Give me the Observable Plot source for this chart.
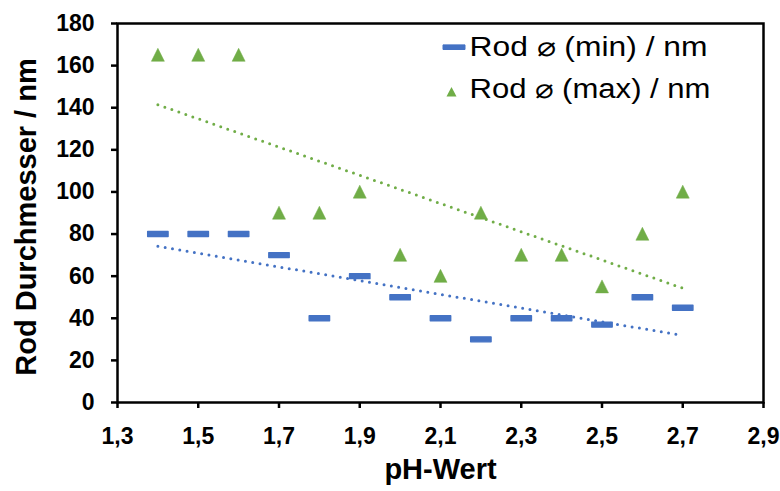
<!DOCTYPE html>
<html>
<head>
<meta charset="utf-8">
<script src="https://cdn.jsdelivr.net/npm/d3@7"></script>
<script src="https://cdn.jsdelivr.net/npm/@observablehq/plot@0.6"></script>
<style>
  html, body { margin: 0; padding: 0; background: #fff; }
  #chart svg { font-family: "Liberation Sans", Arial, sans-serif; }
</style>
</head>
<body>
<div id="chart"></div>
<script>
// ---- data ----
const pH = [1.4, 1.5, 1.6, 1.7, 1.8, 1.9, 2.0, 2.1, 2.2, 2.3, 2.4, 2.5, 2.6, 2.7];
const rodMin = [80, 80, 80, 70, 40, 60, 50, 40, 30, 40, 40, 37, 50, 45];
const rodMax = [165, 165, 165, 90, 90, 100, 70, 60, 90, 70, 70, 55, 80, 100];
const xTicks = [1.3, 1.5, 1.7, 1.9, 2.1, 2.3, 2.5, 2.7, 2.9];
const yTicks = [0, 20, 40, 60, 80, 100, 120, 140, 160, 180];
const seriesNames = ["Rod \u2300 (min) / nm", "Rod \u2300 (max) / nm"];
const xTitle = "pH-Wert";
const yTitle = "Rod Durchmesser / nm";

const minData = pH.map((x, i) => ({x, y: rodMin[i]}));
const maxData = pH.map((x, i) => ({x, y: rodMax[i]}));

const blue = "#4472C4";
const green = "#70AD47";

const dashSymbol = {draw(ctx) { ctx.rect(-10.2, -2.5, 20.4, 5); ctx.closePath(); }};
const triSymbol = {draw(ctx) { ctx.moveTo(0, -6.8); ctx.lineTo(6.5, 6.2); ctx.lineTo(-6.5, 6.2); ctx.closePath(); }};
const legendDash = {draw(ctx) { ctx.rect(-11, -2.3, 22, 4.6); ctx.closePath(); }};
const legendTri = {draw(ctx) { ctx.moveTo(0, -5); ctx.lineTo(5, 4.5); ctx.lineTo(-5, 4.5); ctx.closePath(); }};

const fmt = d => d.toFixed(1).replace(".", ",");

const chart = Plot.plot({
  width: 780,
  height: 491,
  marginTop: 23,
  marginRight: 17,
  marginBottom: 89,
  marginLeft: 117,
  style: {fontFamily: "'Liberation Sans', Arial, sans-serif", color: "#000", background: "#fff"},
  x: {domain: [1.3, 2.9]},
  y: {domain: [0, 180]},
  marks: [
    Plot.linearRegressionY(maxData, {x: "x", y: "y", stroke: green, ci: 0, strokeWidth: 3, strokeDasharray: "0,7.4", strokeLinecap: "round"}),
    Plot.linearRegressionY(minData, {x: "x", y: "y", stroke: blue, ci: 0, strokeWidth: 3, strokeDasharray: "0,7.4", strokeLinecap: "round"}),
    Plot.dot(minData, {x: "x", y: "y", symbol: dashSymbol, fill: blue, stroke: blue, strokeWidth: 1.4, strokeLinejoin: "round", r: 5}),
    Plot.dot(maxData, {x: "x", y: "y", symbol: triSymbol, fill: green, stroke: green, strokeWidth: 0.5, r: 5}),
    Plot.frame({stroke: "#000", strokeWidth: 2.5}),
    Plot.axisX({ticks: xTicks, tickFormat: fmt, tickSize: 6, tickPadding: 19, strokeWidth: 2.5, fontSize: 23, fontWeight: "bold", fill: "#000", label: null}),
    Plot.axisY({ticks: yTicks, tickSize: 6, tickPadding: 17, strokeWidth: 2.5, fontSize: 23, fontWeight: "bold", fill: "#000", label: null}),
    Plot.text([xTitle], {frameAnchor: "bottom", dy: 76, fontSize: 29, fontWeight: "bold", fill: "#000"}),
    Plot.text([yTitle], {frameAnchor: "left", dx: -91, dy: 4, rotate: -90, textAnchor: "middle", fontSize: 29, fontWeight: "bold", fill: "#000"}),
    // legend
    Plot.dot([seriesNames[0]], {frameAnchor: "top-left", dx: 336.5, dy: 23.7, symbol: legendDash, fill: blue, stroke: blue, strokeWidth: 1, strokeLinejoin: "round"}),
    Plot.dot([seriesNames[1]], {frameAnchor: "top-left", dx: 334, dy: 68.5, symbol: legendTri, fill: green}),
    Plot.text([seriesNames[0]], {frameAnchor: "top-left", dx: 352, dy: 24, text: d => d, textAnchor: "start", lineAnchor: "middle", fontSize: 27, fill: "#000", className: "legend-text-1"}),
    Plot.text([seriesNames[1]], {frameAnchor: "top-left", dx: 352, dy: 66, text: d => d, textAnchor: "start", lineAnchor: "middle", fontSize: 27, fill: "#000", className: "legend-text-2"})
  ]
});
d3.select(chart).selectAll(".legend-text-1 text").attr("textLength", 238).attr("lengthAdjust", "spacingAndGlyphs");
d3.select(chart).selectAll(".legend-text-2 text").attr("textLength", 241).attr("lengthAdjust", "spacingAndGlyphs");
document.getElementById("chart").appendChild(chart);
</script>
</body>
</html>
